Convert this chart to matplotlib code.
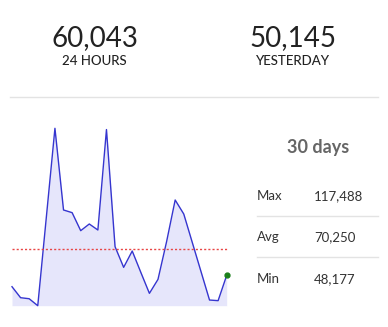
import matplotlib.pyplot as plt
from matplotlib.lines import Line2D

W, H = 388, 327

# daily totals for the last 30 days window
daily = [55600, 51300, 50900, 48177, 82800, 117488, 85570, 84530, 77490,
         80100, 77750, 117000, 71240, 63160, 69540, 61200, 53000, 58470,
         73190, 89475, 84000, 72800, 61600, 50390, 50145, 60043]
last_24h = 60043
yesterday = 50145
stat_names = ["Max", "Avg", "Min"]
stat_values = [117488, 70250, 48177]

FONT = "Lato"


def fx(px):
    return px / W


def fy(py):
    return 1 - py / H


def main():
    fig = plt.figure(figsize=(W / 100, H / 100), dpi=100)
    fig.patch.set_facecolor("white")

    # headline numbers
    for cx, val, label in [(94.5, last_24h, "24 HOURS"), (292.5, yesterday, "YESTERDAY")]:
        fig.text(fx(cx), fy(38), f"{val:,}", ha="center", va="center",
                 fontsize=20, color="#222222", family=FONT)
        fig.text(fx(cx), fy(61), label, ha="center", va="center",
                 fontsize=9.5, color="#222222", family=FONT, weight="medium")

    fig.add_artist(Line2D([fx(10), fx(378)], [fy(97), fy(97)],
                          color="#e3e3e3", lw=1, transform=fig.transFigure))

    # sparkline
    top, bottom = 128.3, 305.7
    left, right = 12, 226.7
    ax = fig.add_axes([fx(left), fy(bottom), fx(right) - fx(left), (bottom - top) / H])
    xs = list(range(len(daily)))
    lo, hi = min(daily), max(daily)
    ax.fill_between(xs, daily, lo, color="#e6e6fb", lw=0)
    ax.plot(xs, daily, color="#3535cf", lw=1, clip_on=False)
    ax.axhline(stat_values[1], color="#e84545", lw=1, ls=(0, (1.5, 1.5)), clip_on=False)
    ax.plot(xs[-1], daily[-1], "o", color="#1b7f1b", ms=3.5, clip_on=False)
    ax.set_xlim(0, len(daily) - 1)
    ax.set_ylim(lo, hi)
    ax.axis("off")

    # 30 day summary
    fig.text(fx(318), fy(148), "30 days", ha="center", va="center",
             fontsize=13, color="#666666", family=FONT, weight="bold")
    rows_y = [196, 237, 279]
    for i, (name, val) in enumerate(zip(stat_names, stat_values)):
        y = rows_y[i]
        fig.text(fx(257), fy(y), name, ha="left", va="center",
                 fontsize=9.5, color="#333333", family=FONT)
        fig.text(fx(314), fy(y), f"{val:,}", ha="left", va="center",
                 fontsize=9.5, color="#333333", family=FONT)
    for y in [215.7, 257]:
        fig.add_artist(Line2D([fx(257), fx(378)], [fy(y), fy(y)],
                              color="#e3e3e3", lw=1, transform=fig.transFigure))

    fig.savefig("out.png", dpi=100)


if __name__ == "__main__":
    main()
